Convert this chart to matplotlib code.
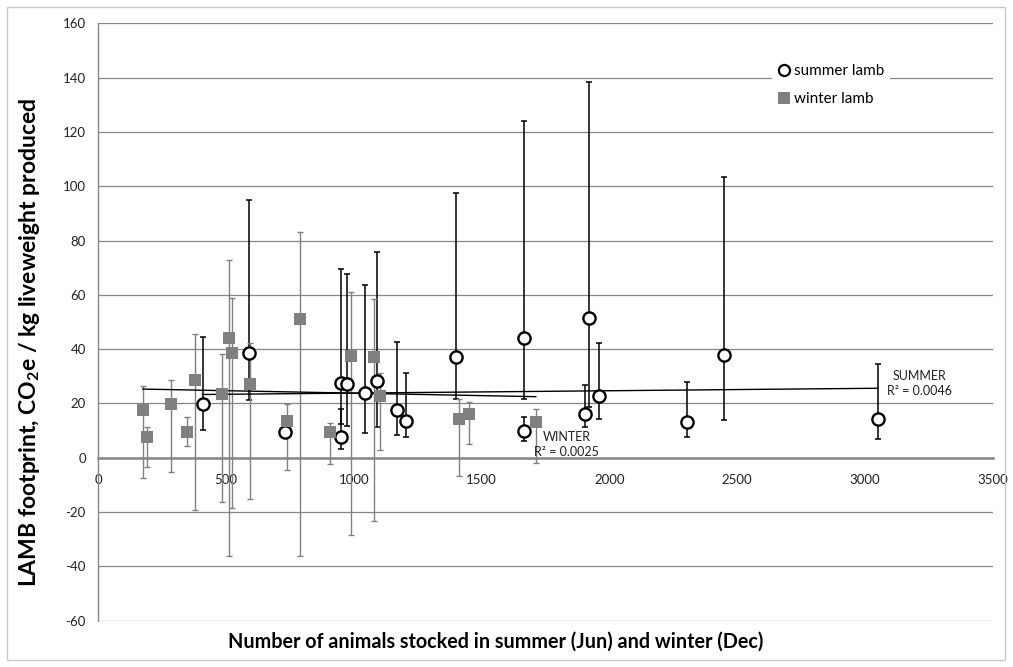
import numpy as np
import matplotlib.pyplot as plt
from matplotlib.lines import Line2D
from matplotlib.patches import Rectangle

plt.rcParams["font.family"] = ["Lato", "DejaVu Sans"]
plt.rcParams["axes.unicode_minus"] = False

# summer lamb: herd size, footprint, lower / upper end of bar
summer_x = [408, 588, 730, 948, 948, 974, 1042, 1089, 1170, 1203,
            1399, 1665, 1665, 1903, 1920, 1960, 2304, 2448, 3051]
summer_y = [19.8, 38.4, 9.6, 27.4, 7.5, 27.0, 23.7, 28.4, 17.6, 13.6,
            37.1, 44.0, 10.0, 16.1, 51.3, 22.7, 13.0, 37.8, 14.1]
summer_lo = [10.4, 21.2, 8.6, 12.4, 3.2, 11.8, 9.2, 11.2, 8.4, 7.5,
             21.5, 21.5, 6.3, 11.4, 18.8, 14.1, 7.7, 13.9, 6.8]
summer_hi = [44.3, 94.9, 10.6, 69.4, 17.8, 67.7, 63.5, 75.9, 42.5, 31.4,
             97.6, 124.0, 14.9, 26.7, 138.5, 42.1, 28.0, 103.5, 34.5]

# winter lamb
winter_x = [174, 189, 283, 347, 378, 486, 512, 525, 593, 738,
            791, 906, 989, 1080, 1104, 1412, 1451, 1712]
winter_y = [17.6, 7.5, 19.8, 9.6, 28.6, 23.5, 44.0, 38.4, 27.1, 13.6,
            51.1, 9.6, 37.6, 37.1, 22.8, 14.1, 16.1, 13.0]
winter_lo = [-7.6, -3.3, -5.2, 4.3, -19.3, -16.3, -36.0, -18.5, -15.0, -4.5,
             -36.0, -2.3, -28.5, -23.3, 2.8, -6.7, 5.0, -1.8]
winter_hi = [26.4, 11.4, 28.6, 14.9, 45.4, 38.1, 72.8, 58.7, 42.1, 19.8,
             83.2, 12.9, 61.1, 58.6, 31.1, 21.5, 20.6, 17.9]

# linear trend lines (values at the first and last point)
summer_trend = [23.3, 25.6]
winter_trend = [25.3, 22.5]
summer_r2 = "0.0046"
winter_r2 = "0.0025"

GREY = "#808080"
GRID = "#868686"

fig = plt.figure(figsize=(10.13, 6.67), dpi=100)
ax = fig.add_axes([0.097, 0.0694, 0.883, 0.8957])

sx = np.array(summer_x, float)
sy = np.array(summer_y, float)
wx = np.array(winter_x, float)
wy = np.array(winter_y, float)
s_err = [sy - np.array(summer_lo), np.array(summer_hi) - sy]
w_err = [wy - np.array(winter_lo), np.array(winter_hi) - wy]

ax.errorbar(sx, sy, yerr=s_err, fmt="none", ecolor="black", elinewidth=1.1,
            capsize=2.5, capthick=1.1, zorder=3)
ax.errorbar(wx, wy, yerr=w_err, fmt="none", ecolor=GREY, elinewidth=1.0,
            capsize=2.5, capthick=1.0, zorder=3)

# trend lines
ax.plot([sx.min(), sx.max()], summer_trend, color="black", lw=1.0, zorder=4)
ax.plot([wx.min(), wx.max()], winter_trend, color="black", lw=1.0, zorder=4)

ax.plot(sx, sy, "o", ms=8.8, mfc="white", mec="black", mew=1.7, ls="none", zorder=5)
ax.plot(wx, wy, "s", ms=9, mfc=GREY, mec=GREY, mew=0, ls="none", zorder=6)

ax.set_xlim(0, 3500)
ax.set_ylim(-60, 160)
ax.set_xticks(np.arange(0, 3501, 500))
ax.set_yticks(np.arange(-60, 161, 20))
ax.yaxis.grid(True, color=GRID, lw=0.9)
ax.set_axisbelow(True)

for s in ["top", "right"]:
    ax.spines[s].set_visible(False)
ax.spines["bottom"].set_position(("data", 0))
ax.spines["bottom"].set_color(GRID)
ax.spines["bottom"].set_linewidth(1.8)
ax.spines["left"].set_color(GRID)
ax.spines["left"].set_linewidth(1.0)
ax.tick_params(axis="both", length=0, labelsize=9.5, colors="#222222")
ax.tick_params(axis="x", pad=12)
ax.tick_params(axis="y", pad=9)

ax.set_ylabel("LAMB footprint, CO$_\\mathregular{2}$e / kg liveweight produced",
              fontsize=16.5, fontweight="bold")
ax.yaxis.set_label_coords(-0.063, 0.466)
ax.set_xlabel("Number of animals stocked in summer (Jun) and winter (Dec)",
              fontsize=14.2, fontweight="bold")
ax.xaxis.set_label_coords(0.444, -0.019)

ax.text(3213, 27.3, "SUMMER\nR² = " + summer_r2, ha="center", va="center",
        fontsize=9, linespacing=1.3, color="#222222")
ax.text(1832, 5.0, "WINTER\nR² = " + winter_r2, ha="center", va="center",
        fontsize=9, linespacing=1.3, color="#222222")

handles = [
    Line2D([], [], marker="o", ls="none", ms=8, mfc="white", mec="black", mew=1.6),
    Line2D([], [], marker="s", ls="none", ms=8, mfc=GREY, mec=GREY, mew=0),
]
leg = ax.legend(handles, ["summer lamb", "winter lamb"], loc="upper left",
                bbox_to_anchor=(0.745, 0.955), fontsize=11, frameon=True,
                fancybox=False, edgecolor="none", facecolor="white", framealpha=1,
                handlelength=0.7, handletextpad=0.3, labelspacing=0.95,
                borderpad=0.4)

fig.add_artist(Rectangle((7 / 1013, 7 / 667), 998 / 1013, 653 / 667,
                         transform=fig.transFigure, fill=False,
                         edgecolor="#c8c8c8", lw=1.0))

fig.savefig("out.png", dpi=100)
